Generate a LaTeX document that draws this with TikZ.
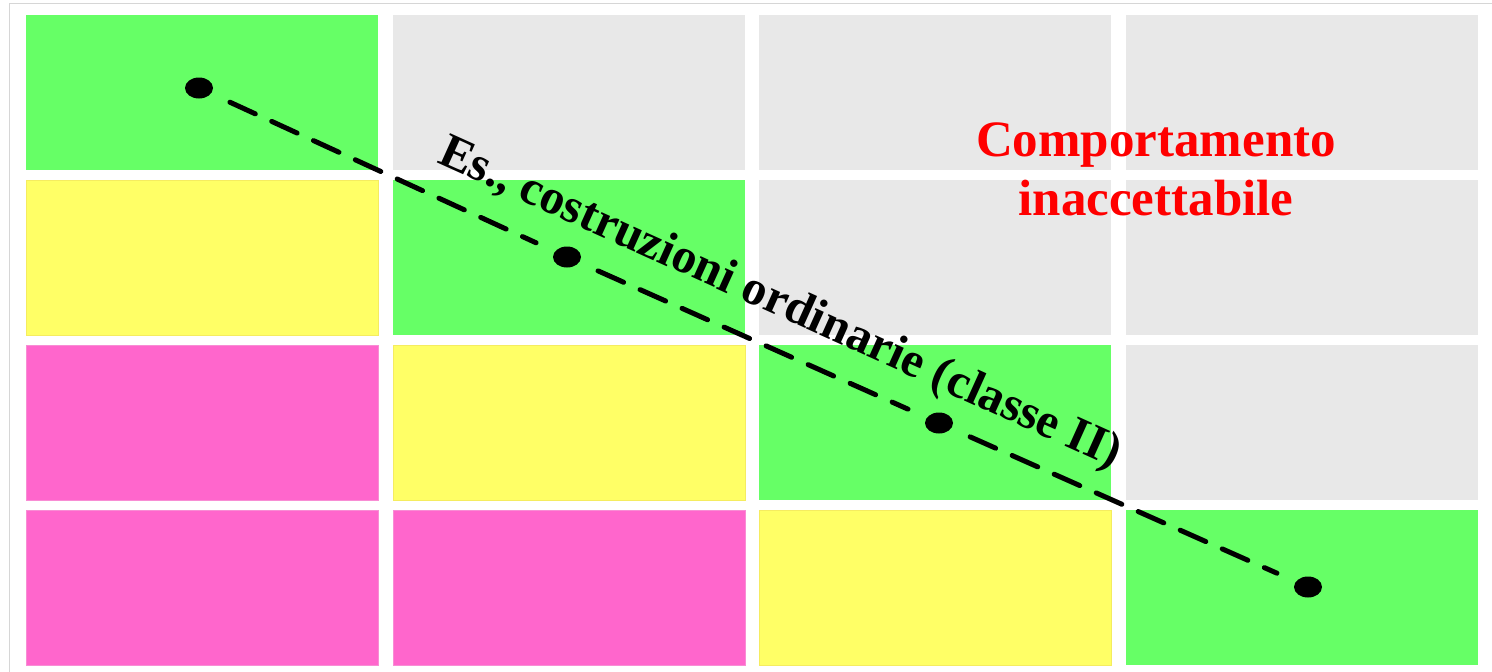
\documentclass[tikz,border=0pt]{standalone}
\usepackage{fontspec}
\setmainfont{Liberation Serif}
\usetikzlibrary{shapes.geometric}
\definecolor{cgreen}{RGB}{102,255,102}
\definecolor{cgray}{RGB}{232,232,232}
\definecolor{cyellow}{RGB}{255,255,102}
\definecolor{cpink}{RGB}{255,102,204}
\definecolor{cframe}{RGB}{214,214,214}
\tikzset{
  cell/.style={draw=none, minimum width=352pt, minimum height=155pt, inner sep=0pt, anchor=north west},
  gcell/.style={cell, fill=cgreen},
  ecell/.style={cell, fill=cgray},
  ycell/.style={cell, fill=cyellow, draw=cyellow!85!brown, line width=0.6pt},
  pcell/.style={cell, fill=cpink, draw=cpink!70!cgray, line width=0.6pt},
  dot/.style={ellipse, fill=black, minimum width=28pt, minimum height=21pt, inner sep=0pt},
  dashline/.style={line width=5pt, line cap=round, dash pattern=on 28pt off 18pt, shorten <=34pt, shorten >=34pt},
}
\begin{document}
\begin{tikzpicture}[x=1pt,y=-1pt]
\useasboundingbox (0,0) rectangle (1492,672);
\fill[white] (0,0) rectangle (1492,672);
\draw[cframe, line width=1pt] (9.5,672) -- (9.5,3) -- (1492,3);
% row 1
\node[gcell] (c11) at (26,15) {};
\node[ecell] (c12) at (393,15) {};
\node[ecell] (c13) at (759,15) {};
\node[ecell] (c14) at (1126,15) {};
% row 2
\node[ycell] (c21) at (26,180) {};
\node[gcell] (c22) at (393,180) {};
\node[ecell] (c23) at (759,180) {};
\node[ecell] (c24) at (1126,180) {};
% row 3
\node[pcell] (c31) at (26,345) {};
\node[ycell] (c32) at (393,345) {};
\node[gcell] (c33) at (759,345) {};
\node[ecell] (c34) at (1126,345) {};
% row 4
\node[pcell] (c41) at (26,510) {};
\node[pcell] (c42) at (393,510) {};
\node[ycell] (c43) at (759,510) {};
\node[gcell] (c44) at (1126,510) {};
% dots
\node[dot] (d1) at (199,88) {};
\node[dot] (d2) at (567,257) {};
\node[dot] (d3) at (939,423) {};
\node[dot] (d4) at (1308,587) {};
\draw[dashline] (d1.center) -- (d2.center);
\draw[dashline] (d2.center) -- (d3.center);
\draw[dashline] (d3.center) -- (d4.center);
% labels
\node[anchor=base west, rotate=-24.3, inner sep=0pt, font=\fontsize{49}{57}\selectfont\bfseries] (lab) at (436,162) {Es., costruzioni ordinarie (classe II)};
\node[align=center, text=red, inner sep=0pt, font=\fontsize{51}{59}\selectfont\bfseries, anchor=base] (inacc) at (1156,215) {Comportamento\\inaccettabile};
\end{tikzpicture}
\end{document}
